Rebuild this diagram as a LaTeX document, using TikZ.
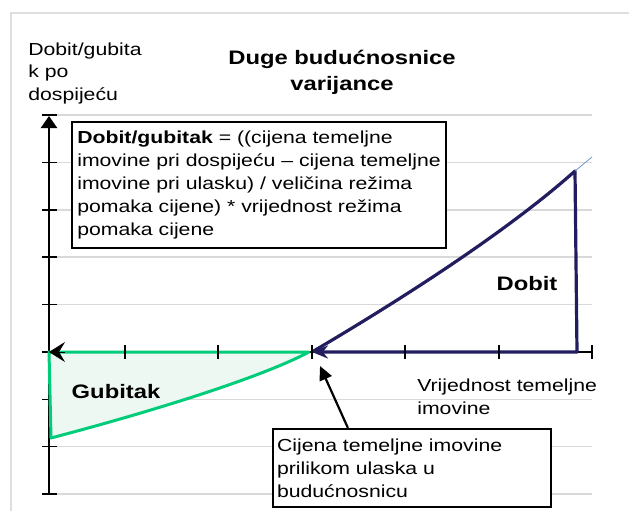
\documentclass[tikz,border=0pt]{standalone}
\usepackage{fontspec}
\setmainfont{Liberation Sans}[FakeStretch=1.22]
\usetikzlibrary{arrows.meta, positioning}

\definecolor{gridgray}{RGB}{217,217,217}
\definecolor{framegray}{RGB}{222,222,222}
\definecolor{gainnavy}{RGB}{33,29,94}
\definecolor{lossgreen}{RGB}{0,204,122}
\definecolor{lossfill}{RGB}{238,248,243}
\definecolor{trendblue}{RGB}{110,150,200}

\begin{document}
\begin{tikzpicture}[
        x = 1pt, y = -1pt, % one unit per pixel, y downwards
        > = Stealth, % arrow head style
        font = \fontsize{17.4}{22.8}\selectfont, % text size
        semithick % line style
    ]

    \tikzstyle{gridline}=[draw = gridgray, line width = 1.4pt]
    \tikzstyle{axisline}=[draw = black, line width = 2.3pt]
    \tikzstyle{tickmark}=[draw = black, line width = 1.6pt]
    \tikzstyle{notebox}=[draw = black, line width = 2.2pt, fill = white, align = left]
    \tikzstyle{plaintext}=[align = left, inner sep = 0pt]
    \tikzstyle{arealabel}=[font = \bfseries\fontsize{19.5}{23}\selectfont, inner sep = 0pt]

    \useasboundingbox (0,0) rectangle (629,511);

    % frame
    \draw[framegray, line width = 1.6pt] (11,511) -- (11,13) -- (629,13);

    % grid
    \foreach \y in {115,162.4,209.8,257.1,304.5,351.9,399.3,446.6,494}
        \draw[gridline] (49,\y) -- (592,\y);

    \coordinate (origin) at (49,352);
    \coordinate (xend) at (592,352);
    \coordinate (ybottom) at (49,494);
    \coordinate (ytop) at (49,116);
    \coordinate (entry) at (312,352);
    \coordinate (lossstart) at (309,352);
    \coordinate (lossend) at (51,438);
    \coordinate (peak) at (575,171);
    \coordinate (drop) at (577,352);
    \coordinate (trendend) at (592,157);
    \coordinate (entrytip) at (320,366);

    % axes
    \draw[axisline, -{Triangle[length=12pt, width=16pt]}] (ybottom) -- (ytop);
    \foreach \y in {115,162.4,209.8,257.1,304.5,351.9,399.3,446.6,494}
        \draw[tickmark] (42,\y) -- (57,\y);
    \draw[axisline] (origin) -- (xend);

    % loss area
    \draw[draw = lossgreen, fill = lossfill, line width = 3pt, line join = round]
        (origin) -- (lossstart) .. controls (260,378) and (150,412) .. (lossend) -- cycle;

    % gain area
    \draw[gainnavy, line width = 3.2pt, line join = round, -{Stealth[length=16pt, width=13pt]}]
        (entry) .. controls (380,312) and (500,238) .. (peak) -- (drop) -- (entry);
    \draw[trendblue, line width = 0.8pt] (peak) -- (trendend);

    \foreach \x in {125,218,312,405,499,592}
        \draw[tickmark] (\x,345) -- (\x,359);
    \draw[line width = 1pt, -{Stealth[length=16pt, width=20pt, inset=6pt]}] (65,352) -- (origin);

    % texts
    \node[plaintext, anchor = west] (ylabel) at (28,73.5) {Dobit/gubita\\k po\\dospijeću};
    \node[font = \bfseries\fontsize{19.5}{26}\selectfont, align = center, inner sep = 0pt] (title) at (342,72)
        {Duge budućnosnice\\varijance};

    \node[notebox, minimum width = 374pt, minimum height = 126pt, inner sep = 2pt] (formula) at (259,185)
        {\textbf{Dobit/gubitak} = ((cijena temeljne\\imovine pri dospijeću – cijena temeljne\\imovine pri ulasku) / veličina režima\\pomaka cijene) * vrijednost režima\\pomaka cijene};

    \node[notebox, minimum height = 78pt, inner xsep = 4pt, text width = 270pt] (callout) at (412,468)
        {Cijena temeljne imovine\\prilikom ulaska u\\budućnosnicu};

    \node[plaintext, anchor = west] (xlabel) at (417,397) {Vrijednost temeljne\\imovine};
    \node[arealabel] (gainlabel) at (527,284) {Dobit};
    \node[arealabel] (losslabel) at (116,391.5) {Gubitak};

    % pointer to entry price
    \draw[line width = 2.2pt, -{Triangle[length=14pt, width=13pt]}]
        (callout.north west) ++(76,0) -- (entrytip);

\end{tikzpicture}
\end{document}
